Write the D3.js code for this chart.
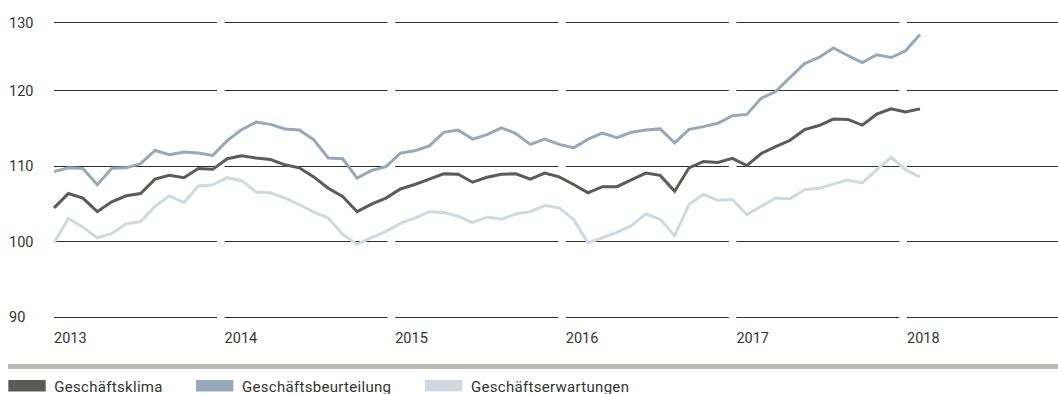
<!DOCTYPE html>
<html lang="de">
<head>
<meta charset="utf-8">
<title>ifo Geschäftsklima</title>
<script src="https://cdn.jsdelivr.net/npm/d3@7"></script>
<style>
  html, body { margin: 0; padding: 0; background: #fff; }
  svg { display: block; font-family: Roboto, "Noto Sans", sans-serif; }
  .tick-label { font-size: 14.5px; fill: #333; }
  .legend-label { font-size: 15px; letter-spacing: 0.3px; fill: #333; }
</style>
</head>
<body>
<svg id="chart" width="1058" height="394"></svg>
<script>
// Monthly index values, January 2013 to January 2018
const geschaeftsklima = [
  104.4, 106.3, 105.7, 103.9, 105.2, 106.0, 106.3, 108.2, 108.7, 108.4, 109.6, 109.5,
  110.9, 111.3, 111.0, 110.8, 110.1, 109.7, 108.5, 107.0, 105.9, 103.9, 104.9, 105.7,
  106.9, 107.5, 108.2, 108.9, 108.85, 107.8, 108.45, 108.85, 108.9, 108.2, 109.0, 108.5,
  107.5, 106.4, 107.2, 107.2, 108.1, 109.0, 108.7, 106.6, 109.7, 110.55, 110.4, 110.95,
  110.0, 111.6, 112.5, 113.35, 114.75, 115.3, 116.15, 116.1, 115.35, 116.8, 117.5, 117.1,
  117.5
];
const geschaeftsbeurteilung = [
  109.2, 109.7, 109.6, 107.45, 109.65, 109.7, 110.25, 112.0, 111.45, 111.8, 111.65, 111.35,
  113.3, 114.75, 115.75, 115.45, 114.85, 114.7, 113.4, 111.0, 110.9, 108.35, 109.35, 109.85,
  111.65, 111.95, 112.6, 114.4, 114.7, 113.5, 114.1, 114.98, 114.25, 112.8, 113.5, 112.8,
  112.35, 113.5, 114.3, 113.7, 114.4, 114.7, 114.85, 113.0, 114.8, 115.15, 115.6, 116.6,
  116.77, 118.9, 119.8, 121.87, 123.9, 124.8, 126.2, 125.1, 124.05, 125.2, 124.8, 125.8,
  128.2
];
const geschaeftserwartungen = [
  99.8, 103.0, 101.85, 100.45, 101.0, 102.3, 102.6, 104.6, 106.0, 105.1, 107.3, 107.45,
  108.4, 108.0, 106.5, 106.4, 105.7, 104.85, 103.85, 103.05, 100.9, 99.6, 100.45, 101.3,
  102.35, 103.05, 103.9, 103.8, 103.3, 102.45, 103.2, 102.9, 103.6, 103.9, 104.7, 104.4,
  102.85, 99.8, 100.45, 101.15, 102.05, 103.6, 102.9, 100.7, 104.85, 106.2, 105.4, 105.5,
  103.5, 104.6, 105.7, 105.6, 106.8, 107.0, 107.55, 108.1, 107.7, 109.45, 111.1, 109.45,
  108.5
];

const months = d3.timeMonths(new Date(2013, 0, 1), new Date(2018, 1, 1));
const years = [2013, 2014, 2015, 2016, 2017, 2018];
const yTicks = [90, 100, 110, 120, 130];

const series = [
  { name: "Geschäftserwartungen", values: geschaeftserwartungen, color: "#d0d9e2" },
  { name: "Geschäftsbeurteilung", values: geschaeftsbeurteilung, color: "#97a9b8" },
  { name: "Geschäftsklima", values: geschaeftsklima, color: "#5c5b57" }
];
const legendOrder = ["Geschäftsklima", "Geschäftsbeurteilung", "Geschäftserwartungen"];

const width = 1058;
const svg = d3.select("#chart");

// Scales: the value axis is compressed slightly above 120
const y = d3.scaleLinear().domain([90, 120, 130]).range([316.7, 90, 22.3]);
const x = d3.scalePoint().domain(months.map(d => +d)).range([54, 920]);
const yearX = d3.scaleLinear().domain([2013, 2018]).range([54, 907]);
const segWidth = 163;

// Horizontal grid lines, broken at each year
const grid = svg.append("g").attr("class", "grid");
yTicks.forEach(t => {
  const yy = Math.round(y(t)) + 0.5;
  years.forEach(yr => {
    const x0 = yearX(yr);
    const x1 = Math.min(x0 + segWidth, width);
    grid.append("line")
      .attr("x1", x0).attr("x2", x1)
      .attr("y1", yy).attr("y2", yy)
      .attr("stroke", "#2e2e2e").attr("stroke-width", 1);
  });
});

// Value labels
svg.append("g").selectAll("text")
  .data(yTicks)
  .join("text")
  .attr("class", "tick-label")
  .attr("x", 9)
  .attr("y", d => y(d) + 5.5)
  .text(d => d);

// Year labels
svg.append("g").selectAll("text")
  .data(years)
  .join("text")
  .attr("class", "tick-label")
  .attr("x", d => yearX(d))
  .attr("y", 343.3)
  .text(d => d);

// Lines
const line = d3.line()
  .x((d, i) => x(+months[i]))
  .y(d => y(d));

svg.append("g").selectAll("path")
  .data(series)
  .join("path")
  .attr("fill", "none")
  .attr("stroke", d => d.color)
  .attr("stroke-width", 3)
  .attr("d", d => line(d.values));

// Separator bar
svg.append("rect")
  .attr("x", 8).attr("y", 364)
  .attr("width", width - 8).attr("height", 5)
  .attr("fill", "#b9b9b6");

// Legend
const legendX = [8.3, 196, 425];
const legend = svg.append("g").selectAll("g")
  .data(legendOrder)
  .join("g")
  .attr("transform", (d, i) => `translate(${legendX[i]},380)`);
legend.append("rect")
  .attr("width", 37.4).attr("height", 11.5)
  .attr("fill", d => series.find(s => s.name === d).color);
legend.append("text")
  .attr("class", "legend-label")
  .attr("x", 46)
  .attr("y", 11.5)
  .text(d => d);
</script>
</body>
</html>
